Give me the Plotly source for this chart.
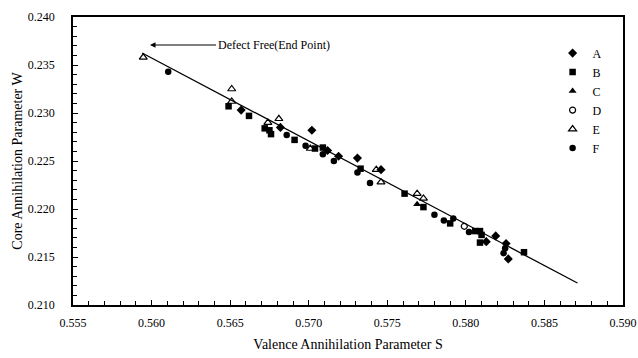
import plotly.graph_objects as go

# ---- data ----
A_S = [0.5657, 0.5682, 0.5702, 0.5712, 0.5719, 0.5731, 0.5746, 0.5813, 0.5819, 0.58256, 0.5827]
A_W = [0.2303, 0.2285, 0.2282, 0.2261, 0.2255, 0.2253, 0.2241, 0.2166, 0.2172, 0.2164, 0.2148]

B_S = [0.5649, 0.5662, 0.5672, 0.5675, 0.5676, 0.5691, 0.5704, 0.5709, 0.5733, 0.5761, 0.5773,
       0.5790, 0.5806, 0.5809, 0.5810, 0.5809, 0.5837]
B_W = [0.2307, 0.2297, 0.2284, 0.2282, 0.2278, 0.2272, 0.2263, 0.2264, 0.2242, 0.2216, 0.2202,
       0.2185, 0.2177, 0.2177, 0.2173, 0.2165, 0.2155]

C_S = [0.5769]
C_W = [0.2205]

D_S = [0.5799]
D_W = [0.2182]

E_S = [0.55947, 0.5651, 0.5651, 0.5674, 0.5681, 0.5701, 0.5743, 0.5746, 0.5769, 0.5773]
E_W = [0.2358, 0.2325, 0.2312, 0.2290, 0.2294, 0.2263, 0.2241, 0.2228, 0.2216, 0.2211]

F_S = [0.56106, 0.5686, 0.5698, 0.5709, 0.5716, 0.5731, 0.5739, 0.5780, 0.5786, 0.5792,
       0.5802, 0.5824, 0.5825]
F_W = [0.2343, 0.2277, 0.2266, 0.2257, 0.2250, 0.2238, 0.2227, 0.2194, 0.2188, 0.2190,
       0.2176, 0.2154, 0.2159]

FIT_S = [0.5594, 0.5871]
FIT_W = [0.23625, 0.21229]

X_TICKS = [0.555, 0.560, 0.565, 0.570, 0.575, 0.580, 0.585, 0.590]
Y_TICKS = [0.210, 0.215, 0.220, 0.225, 0.230, 0.235, 0.240]

FONT = "Liberation Serif"

fig = go.Figure()

fig.add_trace(go.Scatter(x=FIT_S, y=FIT_W, mode="lines",
                         line=dict(color="black", width=1.3),
                         showlegend=False, hoverinfo="skip"))

series = [
    ("A", A_S, A_W, "diamond", 7),
    ("B", B_S, B_W, "square", 6.5),
    ("C", C_S, C_W, "triangle-up", 7),
    ("D", D_S, D_W, "circle-open", 6),
    ("E", E_S, E_W, "triangle-up-open", 7),
    ("F", F_S, F_W, "circle", 6.5),
]
for name, xs, ys, sym, sz in series:
    fig.add_trace(go.Scatter(
        x=xs, y=ys, mode="markers", name=name,
        marker=dict(symbol=sym, size=sz, color="black",
                    line=dict(color="black", width=1.2 if "open" in sym else 0)),
    ))

fig.add_annotation(
    x=0.5599, y=0.23708, xref="x", yref="y",
    text="Defect Free(End Point)", showarrow=True,
    arrowhead=2, arrowsize=1, arrowwidth=1.1, arrowcolor="black",
    ax=66, ay=0, axref="pixel", ayref="pixel",
    xanchor="left", yanchor="middle",
    font=dict(family=FONT, size=12, color="black"),
)

axis_common = dict(
    showgrid=False, zeroline=False, automargin=False,
    showline=True, linecolor="black", linewidth=1.5, mirror=True,
    ticks="inside", ticklen=5, tickwidth=1.2, tickcolor="black",
    tickfont=dict(family=FONT, size=12, color="black"),
    ticklabeloverflow="allow",
)

fig.update_xaxes(
    range=[0.555, 0.590], tickvals=X_TICKS, tickformat=".3f",
    minor=dict(dtick=0.001, ticks="inside", ticklen=4, tickwidth=1, tickcolor="black"),
    title=dict(text="Valence Annihilation Parameter S",
               font=dict(family=FONT, size=14, color="black"), standoff=10),
    ticklabelstandoff=6,
    **axis_common,
)
fig.update_yaxes(
    range=[0.210, 0.240], tickvals=Y_TICKS, tickformat=".3f",
    minor=dict(dtick=0.001, ticks="inside", ticklen=4, tickwidth=1, tickcolor="black"),
    title=dict(text="Core Annihilation Parameter W",
               font=dict(family=FONT, size=14, color="black"), standoff=2),
    ticklabelstandoff=14,
    **axis_common,
)

fig.update_layout(
    width=638, height=358,
    margin=dict(l=73, r=15, t=17, b=53, autoexpand=False),
    paper_bgcolor="white", plot_bgcolor="white",
    font=dict(family=FONT, size=12, color="black"),
    legend=dict(x=0.872, y=0.925, xanchor="left", yanchor="top",
                bgcolor="rgba(0,0,0,0)", borderwidth=0,
                font=dict(family=FONT, size=12, color="black"),
                itemwidth=30, tracegroupgap=0),
)

# remove the page's default 8px body margin so the figure fills the window exactly
fig.write_html("out.html",
               config={"displayModeBar": False},
               post_script="document.body.style.margin='0px';document.body.style.overflow='hidden';")
